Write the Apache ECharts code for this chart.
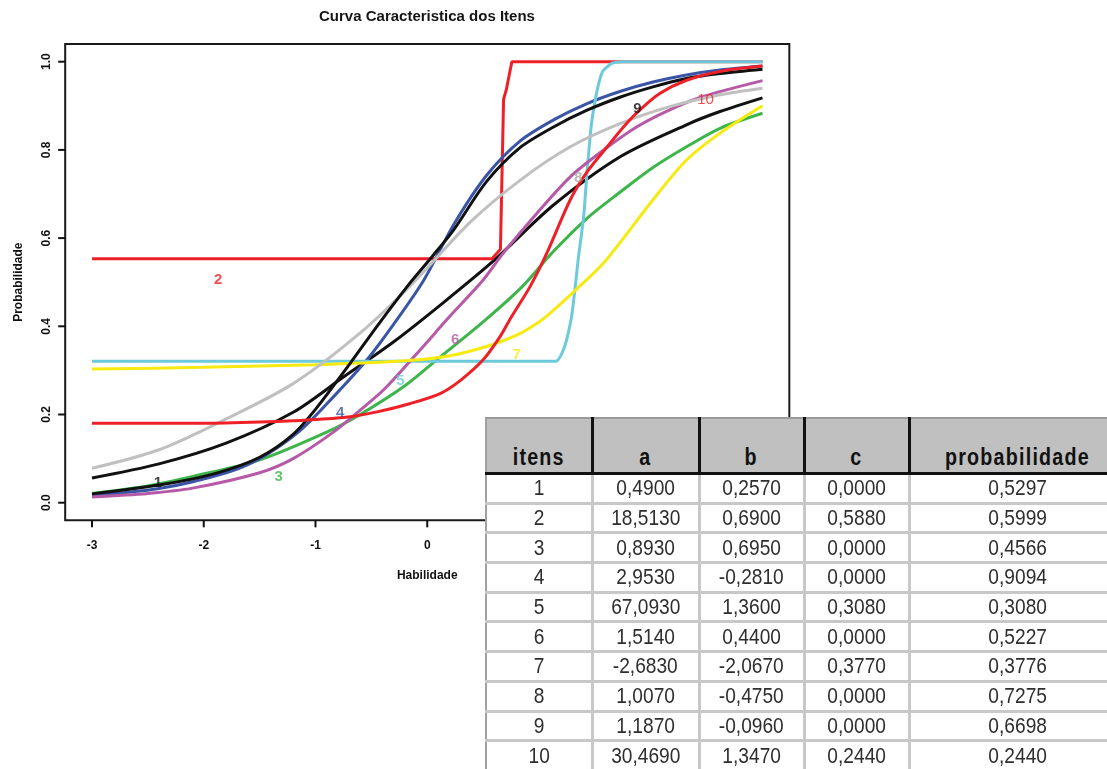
<!DOCTYPE html>
<html>
<head>
<meta charset="utf-8">
<script src="https://cdn.jsdelivr.net/npm/echarts@6/dist/echarts.min.js"></script>
<style>
  html, body { margin:0; padding:0; background:#fff; overflow:hidden; }
  #wrap { position:relative; width:1107px; height:769px; overflow:hidden; }
  #chart { position:absolute; left:0; top:0; width:1107px; height:769px; }
  #tbl { position:absolute; left:485px; top:417px; }
  #tbl table { border-collapse:collapse; table-layout:fixed; width:640px; }
  #tbl th { background:#c0c0c0; height:52px; vertical-align:bottom; padding:0 0 1px 0; white-space:nowrap;
    font-family:"Liberation Sans",Arial,sans-serif; font-weight:bold; font-size:24px; color:#111;
    border-top:2px solid #9a9a9a; border-left:3px solid #111; border-right:3px solid #111; border-bottom:3px solid #111; }
  #tbl th span { display:inline-block; transform:scaleX(0.82); letter-spacing:1.5px; }
  #tbl th:first-child { border-left:2px solid #a0a0a0; }
  #tbl td { background:#fff; height:26.7px; padding:0; text-align:center; white-space:nowrap;
    font-family:"Liberation Sans",Arial,sans-serif; font-size:22px; color:#2e2e2e;
    border:3px solid #c8c8c8; line-height:24px; }
  #tbl td span { display:inline-block; transform:scaleX(0.87); }
  #tbl td:first-child { border-left:2px solid #a0a0a0; }
</style>
</head>
<body>
<div id="wrap">
  <div id="chart"></div>
  <div id="tbl"></div>
</div>
<script>
// ---- curve data: [habilidade, probabilidade] ----
const item1 = [[-3,0.056],[-2.4,0.088],[-1.8,0.135],[-1.2,0.205],[-0.75,0.285],[-0.3,0.365],[0.15,0.455],[0.6,0.55],[1.13,0.675],[1.73,0.785],[2.32,0.857],[2.62,0.887],[3,0.918]];
const item2 = [[-3,0.553],[0.58,0.553],[0.655,0.575],[0.683,0.915],[0.707,0.936],[0.757,1.0],[3,1.0]];
const item3 = [[-3,0.021],[-2.5,0.038],[-2.09,0.06],[-1.5,0.097],[-0.9,0.16],[-0.6,0.2],[-0.2,0.265],[0.09,0.325],[0.5,0.41],[0.85,0.49],[1.13,0.57],[1.43,0.645],[1.73,0.705],[2.02,0.76],[2.32,0.807],[2.62,0.849],[3,0.883]];
const item4 = [[-3,0.017],[-2.4,0.032],[-1.8,0.068],[-1.5,0.1],[-1.14,0.163],[-0.84,0.24],[-0.54,0.324],[-0.3,0.405],[-0.03,0.505],[0.24,0.632],[0.53,0.742],[0.83,0.82],[1.13,0.868],[1.43,0.905],[1.73,0.933],[2.02,0.954],[2.32,0.97],[2.62,0.981],[3,0.99]];
const item5 = [[-3,0.321],[1.15,0.321],[1.23,0.355],[1.29,0.42],[1.32,0.48],[1.35,0.55],[1.40,0.65],[1.43,0.75],[1.47,0.86],[1.52,0.935],[1.57,0.978],[1.65,0.996],[1.75,1.0],[3,1.0]];
const item6 = [[-3,0.013],[-2.5,0.021],[-2.1,0.033],[-1.5,0.068],[-1.2,0.1],[-0.84,0.16],[-0.6,0.21],[-0.39,0.256],[-0.09,0.339],[0.2,0.422],[0.5,0.505],[0.68,0.566],[0.98,0.656],[1.28,0.739],[1.58,0.8],[1.88,0.853],[2.17,0.891],[2.47,0.921],[3,0.957]];
const item7 = [[-3,0.303],[-2,0.307],[-1,0.313],[-0.3,0.32],[0.15,0.331],[0.5,0.352],[0.8,0.38],[1.0,0.41],[1.1,0.43],[1.31,0.478],[1.6,0.55],[2.02,0.687],[2.32,0.777],[2.62,0.838],[3,0.9]];
const item8 = [[-3,0.078],[-2.4,0.12],[-1.8,0.19],[-1.2,0.27],[-0.6,0.385],[-0.12,0.5],[0.38,0.635],[0.83,0.731],[1.28,0.807],[1.73,0.86],[2.17,0.898],[2.62,0.925],[3,0.94]];
const item9 = [[-3,0.02],[-2.4,0.04],[-1.9,0.066],[-1.5,0.103],[-1.2,0.155],[-0.99,0.215],[-0.69,0.316],[-0.45,0.4],[-0.18,0.49],[0.05,0.56],[0.24,0.62],[0.53,0.728],[0.83,0.805],[1.13,0.852],[1.43,0.89],[1.73,0.92],[2.02,0.943],[2.32,0.962],[2.62,0.973],[3,0.983]];
const item10 = [[-3,0.18],[-2.06,0.18],[-1.5,0.183],[-1.2,0.186],[-0.75,0.193],[-0.45,0.206],[-0.15,0.225],[0.12,0.248],[0.3,0.278],[0.5,0.324],[0.65,0.376],[0.75,0.42],[0.92,0.49],[1.07,0.566],[1.28,0.687],[1.43,0.75],[1.61,0.807],[1.76,0.853],[1.9,0.89],[2.08,0.928],[2.32,0.958],[2.62,0.978],[3,0.99]];

// curve label text and where it sits (data coordinates)
const curveLabels = ['1','2','3','4','5','6','7','8','9','10'];
const labelPos = [[-2.41,0.045],[-1.87,0.505],[-1.33,0.058],[-0.78,0.203],[-0.24,0.276],[0.25,0.369],[0.80,0.335],[1.35,0.736],[1.88,0.893],[2.49,0.913]];

// axis ranges and ticks (plot box extends 4% beyond the data range, as in R)
const xRange = [-3, 3], xStep = 1;
const yRange = [0, 1], yStep = 0.2;
const xTicks = [-3,-2,-1,0,1,2,3];
const yTicks = [0,0.2,0.4,0.6,0.8,1.0];
const pad = 0.04;

// table values
const tblHeader = ['itens','a','b','c','probabilidade'];
const itens = [1,2,3,4,5,6,7,8,9,10];
const paramA = [0.4900,18.5130,0.8930,2.9530,67.0930,1.5140,-2.6830,1.0070,1.1870,30.4690];
const paramB = [0.2570,0.6900,0.6950,-0.2810,1.3600,0.4400,-2.0670,-0.4750,-0.0960,1.3470];
const paramC = [0.0000,0.5880,0.0000,0.0000,0.3080,0.0000,0.3770,0.0000,0.0000,0.2440];
const probab = [0.5297,0.5999,0.4566,0.9094,0.3080,0.5227,0.3776,0.7275,0.6698,0.2440];

// ---- styles ----
const colors = ['#111111','#ee2027','#3db54a','#3a55a6','#6ccadb','#b65aa8','#f7ea10','#c0c0c0','#111111','#ee2027'];
const items = [item1,item2,item3,item4,item5,item6,item7,item8,item9,item10];
const smoothness = [0.3,false,0.3,0.3,0.2,0.3,0.3,0.3,0.3,0.3];
const xs = xRange[1]-xRange[0], ys = yRange[1]-yRange[0];
const boxX = [xRange[0]-pad*xs, xRange[1]+pad*xs];
const boxY = [yRange[0]-pad*ys, yRange[1]+pad*ys];
const TICK = 7, TW = 2;

const series = items.map((d,i)=>({
  type:'line', data:d, showSymbol:false, smooth:smoothness[i], clip:false,
  lineStyle:{color:colors[i], width:3}, itemStyle:{color:colors[i]}, z:2+i, silent:true
}));
series.push({
  type:'scatter', symbolSize:1, itemStyle:{color:'transparent'}, z:20, silent:true, clip:false,
  data: labelPos.map((p,i)=>({value:p, label:{show:true, position:'inside', formatter:curveLabels[i],
      color: i===7 ? '#a8a8a8' : colors[i], fontSize:15, fontWeight: i===9 ? 'normal' : 'bold',
      fontFamily:'Liberation Sans, Arial, sans-serif'}}))
});
// plot box, placed through the scales
series.push({
  type:'custom', clip:false, silent:true, z:1, data:[[0,0]],
  renderItem:(params, api)=>{
    const a = api.coord([boxX[0], boxY[1]]), b = api.coord([boxX[1], boxY[0]]);
    return {type:'rect', shape:{x:a[0], y:a[1], width:b[0]-a[0], height:b[1]-a[1]},
      style:{fill:'none', stroke:'#1a1a1a', lineWidth:2}};
  }
});

const lbl = {fontWeight:'bold', fontSize:12, color:'#111', fontFamily:'Liberation Sans, Arial, sans-serif'};

// grid spans the data range; the box is drawn 4% wider around it
const plotL = 92, plotR = 762.5, plotT = 61.7, plotB = 502.7;
const W = 1107, H = 769;

const chart = echarts.init(document.getElementById('chart'), null, {renderer:'canvas'});
chart.setOption({
  animation:false,
  backgroundColor:'#ffffff',
  grid:{left:plotL, right:W-plotR, top:plotT, bottom:H-plotB, show:false},
  xAxis:{type:'value', min:xRange[0], max:xRange[1], interval:xStep, position:'bottom', offset:18,
    name:'Habilidade', nameLocation:'middle', nameGap:49, nameTextStyle:lbl,
    axisLine:{show:false, onZero:false}, splitLine:{show:false}, axisTick:{show:false},
    axisLabel:Object.assign({margin:19, showMinLabel:true, showMaxLabel:true, formatter:v=>String(v)}, lbl)},
  yAxis:{type:'value', min:yRange[0], max:yRange[1], interval:yStep, position:'left', offset:27,
    name:'Probabilidade', nameLocation:'middle', nameGap:40, nameTextStyle:lbl,
    axisLine:{show:false, onZero:false}, splitLine:{show:false}, axisTick:{show:false},
    axisLabel:Object.assign({rotate:90, margin:12, showMinLabel:true, showMaxLabel:true, formatter:v=>v.toFixed(1)}, lbl)},
  series:series
});

// title and tick marks as graphic elements, positioned from the scales
const graphics = [{type:'text', x:427, y:17, z:100, silent:true,
  style:{text:'Curva Caracteristica dos Itens', align:'center', verticalAlign:'middle',
    font:'bold 15px "Liberation Sans", Arial, sans-serif', fill:'#151515'}}];
xTicks.forEach(v=>{
  const p = chart.convertToPixel({gridIndex:0}, [v, boxY[0]]);
  graphics.push({type:'rect', z:100, silent:true, shape:{x:p[0]-TW/2, y:p[1], width:TW, height:TICK}, style:{fill:'#111111'}});
});
yTicks.forEach(v=>{
  const p = chart.convertToPixel({gridIndex:0}, [boxX[0], v]);
  graphics.push({type:'rect', z:100, silent:true, shape:{x:p[0]-TICK, y:p[1]-TW/2, width:TICK, height:TW}, style:{fill:'#111111'}});
});
chart.setOption({graphic:graphics});

// ---- table overlay ----
const fmt = v => v.toFixed(4).replace('.', ',');
const colW = [106,107,105,105,217];
const cell = (tag, t) => '<'+tag+'><span>'+t+'</span></'+tag+'>';
let html = '<table><colgroup>' + colW.map(w=>'<col style="width:'+w+'px">').join('') + '</colgroup><tr>';
html += tblHeader.map(h=>cell('th',h)).join('') + '</tr>';
for (let i=0;i<itens.length;i++){
  html += '<tr>' + cell('td',itens[i]) + cell('td',fmt(paramA[i])) + cell('td',fmt(paramB[i])) +
          cell('td',fmt(paramC[i])) + cell('td',fmt(probab[i])) + '</tr>';
}
html += '</table>';
document.getElementById('tbl').innerHTML = html;
</script>
</body>
</html>
